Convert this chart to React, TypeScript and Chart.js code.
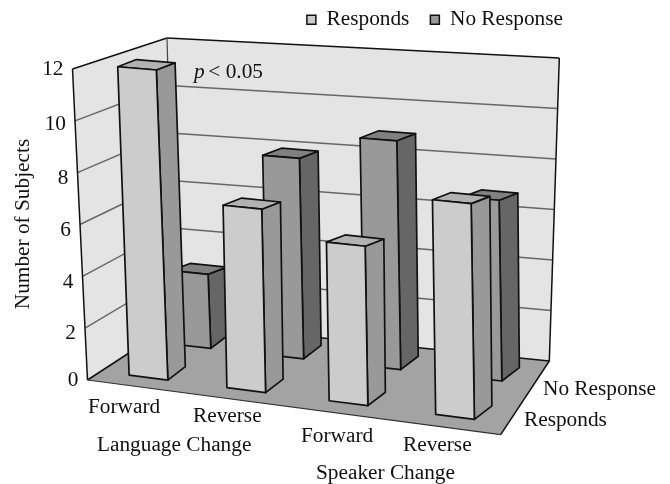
import React, { useEffect, useRef } from "react";
import { Chart, registerables } from "chart.js";

Chart.register(...registerables);

// ---- data ----
const categories = ["Forward", "Reverse", "Forward", "Reverse"];
const groupLabels = ["Language Change", "Speaker Change"];
const responds = [12, 7, 6, 8];
const noResponse = [3, 8, 9, 7];
const seriesNames = ["Responds", "No Response"];
const yTitle = "Number of Subjects";
const annotation = ["p", " < 0.05"];

// ---- layout ----
const FONT = '"Liberation Serif", "Times New Roman", serif';
const SIZE = 21.3;
type Pt = [number, number];
const lerp = (a: Pt, b: Pt, t: number): Pt => [a[0] + (b[0] - a[0]) * t, a[1] + (b[1] - a[1]) * t];

const floorFL: Pt = [87.5, 380];
const floorFR: Pt = [500.7, 434.7];
const floorBL: Pt = [175, 323];
const floorBR: Pt = [549.3, 361];
const wallFT: Pt = [72.5, 69];
const wallBT: Pt = [167, 38];
const wallRT: Pt = [559.3, 58];

const faces = [
  { front: "#cccccc", side: "#999999", top: "#b2b2b2" },
  { front: "#999999", side: "#666666", top: "#808080" },
];
const rowDepth = [0.15, 0.68];
const catNudge = [-0.0075, -0.0175, -0.0165, -0.005];
const tilts = [0.037, 0.021, 0.017, 0.015];
const barW = 0.095;
const baseDepth: Pt = [17.5, -13.4];
const topDepth: Pt = [18.7, -7.2];
const tickNudge = [0, 5, 6, 6, 5.7, 4, 0];

const floorAt = (u: number, w: number): Pt => lerp(lerp(floorFL, floorFR, u), lerp(floorBL, floorBR, u), w);
const heightAt = (u: number, w: number) => {
  const f = 311 + 18 * u;
  const b = 285 + 18 * u;
  return f + (b - f) * w;
};

function poly(ctx: CanvasRenderingContext2D, pts: Pt[], fill: string | null, stroke: string | null, lw = 1.7) {
  ctx.beginPath();
  pts.forEach((p, i) => (i ? ctx.lineTo(p[0], p[1]) : ctx.moveTo(p[0], p[1])));
  ctx.closePath();
  if (fill) {
    ctx.fillStyle = fill;
    ctx.fill();
  }
  if (stroke) {
    ctx.strokeStyle = stroke;
    ctx.lineWidth = lw;
    ctx.lineJoin = "round";
    ctx.stroke();
  }
}
function seg(ctx: CanvasRenderingContext2D, a: Pt, b: Pt, color: string, lw: number) {
  ctx.beginPath();
  ctx.moveTo(a[0], a[1]);
  ctx.lineTo(b[0], b[1]);
  ctx.strokeStyle = color;
  ctx.lineWidth = lw;
  ctx.stroke();
}
function label(ctx: CanvasRenderingContext2D, s: string, x: number, y: number, align: CanvasTextAlign = "left", style = "") {
  ctx.font = `${style} ${SIZE}px ${FONT}`;
  ctx.fillStyle = "#111111";
  ctx.textAlign = align;
  ctx.textBaseline = "middle";
  ctx.fillText(s, x, y);
}

const scene3d = {
  id: "scene3d",
  beforeDatasetDraw() {
    return false;
  },
  beforeDatasetsDraw(chart: any) {
    const { ctx, scales } = chart;
    const xs = scales.x;
    const ys = scales.y;
    const frac = (v: number) => (ys.bottom - ys.getPixelForValue(v)) / (ys.bottom - ys.top);
    ctx.save();

    // walls and floor
    poly(ctx, [floorFL, wallFT, wallBT, floorBL], "#e4e4e4", null);
    poly(ctx, [floorBL, wallBT, wallRT, floorBR], "#e4e4e4", null);
    poly(ctx, [floorFL, floorFR, floorBR, floorBL], "#a3a3a3", null);

    // gridlines and value ticks
    (ys.ticks as { value: number }[]).forEach((t, i) => {
      const f = frac(t.value);
      const a = lerp(floorFL, wallFT, f);
      const b = lerp(floorBL, wallBT, f);
      const c = lerp(floorBR, wallRT, f);
      if (t.value > 0 && t.value < ys.max) {
        seg(ctx, a, b, "#666666", 1.4);
        seg(ctx, b, c, "#666666", 1.4);
      }
      label(ctx, String(t.value), a[0] - 9, a[1] + tickNudge[i], "right");
    });

    // frame
    seg(ctx, floorFL, wallFT, "#111111", 1.5);
    seg(ctx, wallFT, wallBT, "#111111", 1.5);
    seg(ctx, wallBT, wallRT, "#111111", 1.5);
    seg(ctx, wallRT, floorBR, "#111111", 1.5);
    seg(ctx, wallBT, floorBL, "#444444", 1.2);
    seg(ctx, floorFL, floorBL, "#111111", 1.5);
    seg(ctx, floorBL, floorBR, "#111111", 1.5);
    seg(ctx, floorFR, floorBR, "#111111", 1.5);
    seg(ctx, floorFL, floorFR, "#333333", 1.2);

    // annotation
    label(ctx, annotation[0], 194, 72, "left", "italic");
    label(ctx, annotation[1], 203, 72);

    // bars: back row first
    [1, 0].forEach((ds) => {
      const w = rowDepth[ds];
      const look = faces[ds];
      (chart.data.datasets[ds].data as number[]).forEach((v, i) => {
        const uC = (xs.getPixelForValue(i) - xs.left) / (xs.right - xs.left) + catNudge[i];
        const uL = uC - barW / 2;
        const uR = uC + barW / 2;
        const FL = floorAt(uL, w);
        const FR = floorAt(uR, w);
        const BR: Pt = [FR[0] + baseDepth[0], FR[1] + baseDepth[1]];
        const up = (base: Pt, u: number): Pt => {
          const h = frac(v) * heightAt(u, w);
          return [base[0] - tilts[i] * h, base[1] - h];
        };
        const FLt = up(FL, uL);
        const FRt = up(FR, uR);
        const BRt: Pt = [FRt[0] + topDepth[0], FRt[1] + topDepth[1]];
        const BLt: Pt = [FLt[0] + topDepth[0], FLt[1] + topDepth[1]];
        poly(ctx, [FR, BR, BRt, FRt], look.side, "#111111");
        poly(ctx, [FLt, FRt, BRt, BLt], look.top, "#111111");
        poly(ctx, [FL, FR, FRt, FLt], look.front, "#111111");
      });
    });

    // axis text
    const catSpots: Pt[] = [[88, 407], [193, 416], [301, 436], [403, 445]];
    (xs.getLabels() as string[]).forEach((s, i) => label(ctx, s, catSpots[i][0], catSpots[i][1]));
    label(ctx, groupLabels[0], 97, 445);
    label(ctx, groupLabels[1], 316, 473);
    label(ctx, seriesNames[1], 543, 389);
    label(ctx, seriesNames[0], 524, 420);

    ctx.save();
    ctx.translate(23, 224);
    ctx.rotate(-Math.PI / 2);
    label(ctx, yTitle, 0, 0, "center");
    ctx.restore();

    ctx.restore();
  },
};

export default function App() {
  const ref = useRef<HTMLCanvasElement | null>(null);
  useEffect(() => {
    document.body.style.margin = "0";
    const chart = new Chart(ref.current as HTMLCanvasElement, {
      type: "bar",
      data: {
        labels: categories,
        datasets: [
          { label: seriesNames[0], data: responds, backgroundColor: faces[0].front, borderColor: "#111111", borderWidth: 1.5 },
          { label: seriesNames[1], data: noResponse, backgroundColor: faces[1].front, borderColor: "#111111", borderWidth: 1.5 },
        ],
      },
      options: {
        responsive: false,
        animation: false,
        layout: { padding: { right: 86, top: -12 } },
        scales: {
          x: { display: false },
          y: { display: false, min: 0, max: 12, ticks: { stepSize: 2 } },
        },
        plugins: {
          tooltip: { enabled: false },
          legend: {
            position: "top",
            align: "end",
            labels: {
              boxWidth: 9,
              boxHeight: 9,
              padding: 21,
              color: "#111111",
              font: { family: FONT, size: SIZE },
            },
          },
        },
      },
      plugins: [scene3d],
    } as any);
    return () => chart.destroy();
  }, []);
  return (
    <div style={{ width: 670, height: 484, overflow: "hidden" }}>
      <canvas ref={ref} width={670} height={484} style={{ display: "block" }} />
    </div>
  );
}
